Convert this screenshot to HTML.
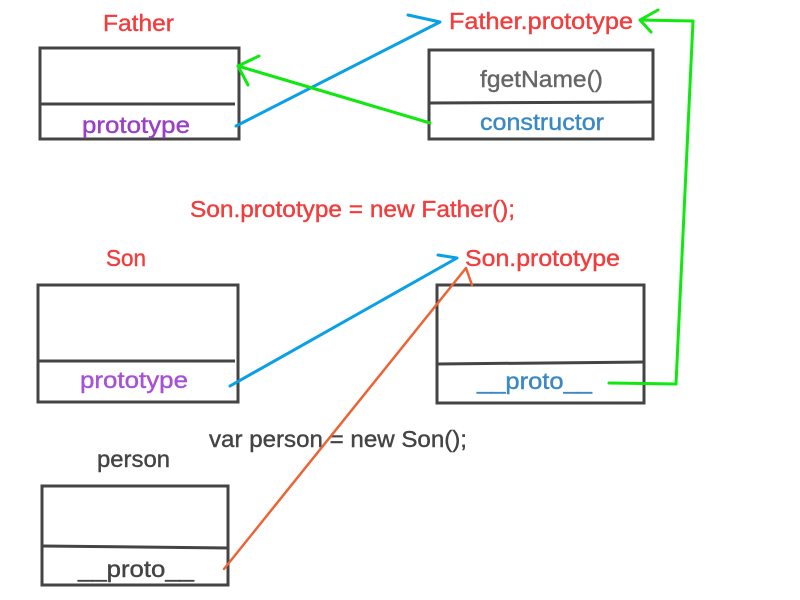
<!DOCTYPE html>
<html><head><meta charset="utf-8"><style>
html,body{margin:0;padding:0;background:#fff;width:800px;height:600px;overflow:hidden}
text{font-family:"Liberation Sans","DejaVu Sans",sans-serif;font-size:23px;stroke-width:0.4}
</style></head><body>
<svg width="800" height="600" viewBox="0 0 800 600" xmlns="http://www.w3.org/2000/svg">
<g fill="none" stroke="#444" stroke-width="3">
<rect x="40" y="48" width="199" height="91"/><line x1="40" y1="104" x2="235" y2="104"/>
<rect x="429" y="50" width="224" height="89"/><line x1="429" y1="103" x2="653" y2="102"/>
<rect x="38" y="285" width="200" height="117"/><line x1="38" y1="361" x2="235" y2="361"/>
<rect x="437" y="285" width="207" height="118"/><line x1="437" y1="364" x2="644" y2="362"/>
<rect x="42" y="486" width="186" height="99"/><line x1="42" y1="546" x2="228" y2="548"/>
</g>
<g lengthAdjust="spacingAndGlyphs">
<text x="103" y="31" fill="#f23d3d" stroke="#f23d3d" textLength="71" lengthAdjust="spacingAndGlyphs">Father</text>
<text x="82" y="133" fill="#9b3fc6" stroke="#9b3fc6" textLength="108" lengthAdjust="spacingAndGlyphs">prototype</text>
<text x="449" y="29" fill="#f23d3d" stroke="#f23d3d" textLength="184" lengthAdjust="spacingAndGlyphs">Father.prototype</text>
<text x="480" y="87" fill="#666" stroke="#666" textLength="123" lengthAdjust="spacingAndGlyphs">fgetName()</text>
<text x="480" y="130" fill="#3a88c4" stroke="#3a88c4" textLength="124" lengthAdjust="spacingAndGlyphs">constructor</text>
<text x="106" y="266" fill="#f23d3d" stroke="#f23d3d" textLength="40" lengthAdjust="spacingAndGlyphs">Son</text>
<text x="80" y="388" fill="#a752d4" stroke="#a752d4" textLength="108" lengthAdjust="spacingAndGlyphs">prototype</text>
<text x="465" y="266" fill="#f23d3d" stroke="#f23d3d" textLength="155" lengthAdjust="spacingAndGlyphs">Son.prototype</text>
<text x="477" y="389" fill="#3a88c4" stroke="#3a88c4" textLength="115" lengthAdjust="spacingAndGlyphs">__proto__</text>
<text x="97" y="467" fill="#444" stroke="#444" textLength="73" lengthAdjust="spacingAndGlyphs">person</text>
<text x="78" y="577" fill="#444" stroke="#444" textLength="116" lengthAdjust="spacingAndGlyphs">__proto__</text>
<text x="190" y="217" fill="#f23d3d" stroke="#f23d3d" textLength="325" lengthAdjust="spacingAndGlyphs">Son.prototype = new Father();</text>
<text x="209" y="447" fill="#444" stroke="#444" textLength="258" lengthAdjust="spacingAndGlyphs">var person = new Son();</text>
</g>
<g fill="none" stroke-width="3" stroke-linejoin="round" stroke-linecap="round">
<polyline stroke="#0aa0e8" points="236,126 440,22 408,15"/>
<polyline stroke="#10e810" points="430,123 238,66"/>
<polyline stroke="#10e810" points="259,56 238,66 248,85"/>
<polyline stroke="#10e810" points="609,383 676,384 693,21 640,20"/>
<polyline stroke="#10e810" points="658,10 640,20 651,32"/>
<polyline stroke="#0aa0e8" points="230,386 457,258 438,255"/>
<polyline stroke="#ec6436" stroke-width="2.5" points="224,569 466,268 472,285"/>
</g>
</svg>
</body></html>
